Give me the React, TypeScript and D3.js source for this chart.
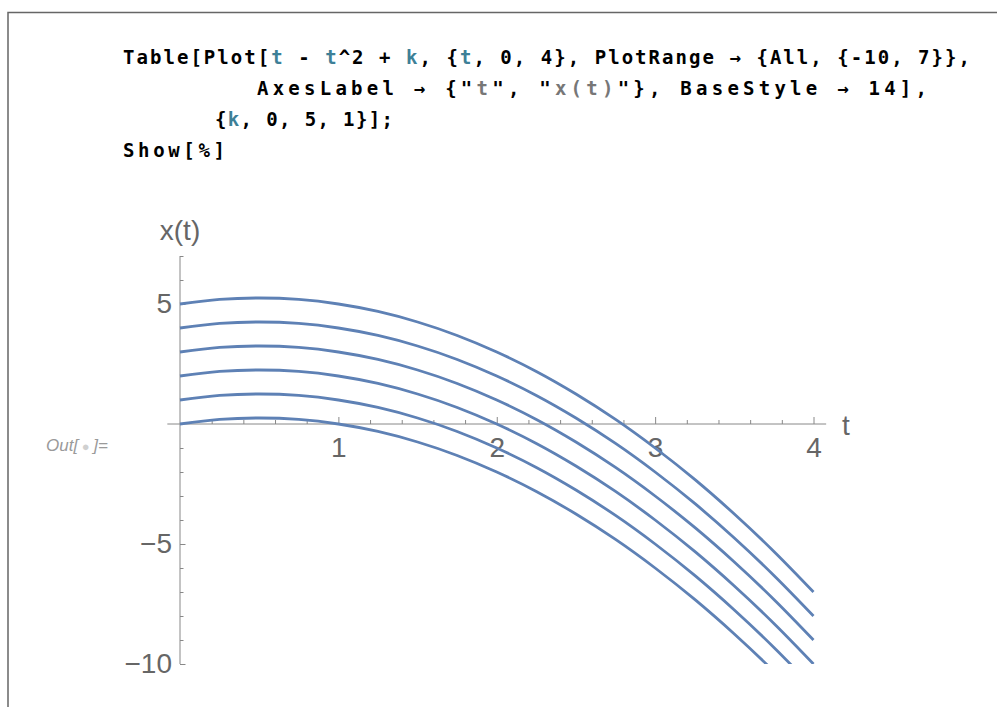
import React, { useRef, useEffect } from 'react';
import * as d3 from 'd3';

// sample points, t along the horizontal axis
const tValues = [0, 0.25, 0.5, 0.75, 1, 1.25, 1.5, 1.75, 2, 2.25, 2.5, 2.75, 3, 3.25, 3.5, 3.75, 4];
const seriesK0 = [0, 0.19, 0.25, 0.19, 0, -0.31, -0.75, -1.31, -2, -2.81, -3.75, -4.81, -6, -7.31, -8.75, -10.31, -12];
const seriesK1 = [1, 1.19, 1.25, 1.19, 1, 0.69, 0.25, -0.31, -1, -1.81, -2.75, -3.81, -5, -6.31, -7.75, -9.31, -11];
const seriesK2 = [2, 2.19, 2.25, 2.19, 2, 1.69, 1.25, 0.69, 0, -0.81, -1.75, -2.81, -4, -5.31, -6.75, -8.31, -10];
const seriesK3 = [3, 3.19, 3.25, 3.19, 3, 2.69, 2.25, 1.69, 1, 0.19, -0.75, -1.81, -3, -4.31, -5.75, -7.31, -9];
const seriesK4 = [4, 4.19, 4.25, 4.19, 4, 3.69, 3.25, 2.69, 2, 1.19, 0.25, -0.81, -2, -3.31, -4.75, -6.31, -8];
const seriesK5 = [5, 5.19, 5.25, 5.19, 5, 4.69, 4.25, 3.69, 3, 2.19, 1.25, 0.19, -1, -2.31, -3.75, -5.31, -7];

const xMajorTicks = [1, 2, 3, 4];
const xMinorTicks = [0.2, 0.4, 0.6, 0.8, 1.2, 1.4, 1.6, 1.8, 2.2, 2.4, 2.6, 2.8, 3.2, 3.4, 3.6, 3.8];
const yMajorTicks = [5, -5, -10];
const yMinorTicks = [7, 6, 4, 3, 2, 1, -1, -2, -3, -4, -6, -7, -8, -9];

const codeLines = [
  { x: 123, y: 64, len: 847, parts: [['Table[Plot[', '#000'], ['t', '#3d8097'], [' - ', '#000'], ['t', '#3d8097'], ['^2 + ', '#000'], ['k', '#3d8097'], [', {', '#000'], ['t', '#3d8097'], [', 0, 4}, PlotRange \u2192 {All, {-10, 7}},', '#000']] },
  { x: 257, y: 95, len: 670, parts: [['AxesLabel \u2192 {"', '#000'], ['t', '#777'], ['", "', '#000'], ['x(t)', '#777'], ['"}, BaseStyle \u2192 14],', '#000']] },
  { x: 215, y: 126, len: 178, parts: [['{', '#000'], ['k', '#3d8097'], [', 0, 5, 1}];', '#000']] },
  { x: 123, y: 157, len: 102, parts: [['Show[%]', '#000']] },
];

const W = 997;
const H = 707;

const Chart = () => {
  const svgRef = useRef(null);

  useEffect(() => {
    const svg = d3.select(svgRef.current);
    svg.selectAll('*').remove();

    const x = d3.scaleLinear().domain([0, 4]).range([180, 813.5]);
    const y = d3.scaleLinear().domain([-10, 7]).range([664, 256]);
    const axisColor = '#888';
    const labelColor = '#666';
    const labelFont = "'Liberation Sans', Arial, sans-serif";

    // notebook cell frame
    svg.append('path')
      .attr('d', `M8,${H} V12.5 H${W}`)
      .attr('fill', 'none')
      .attr('stroke', '#666')
      .attr('stroke-width', 1.5);

    // input code
    codeLines.forEach((line) => {
      const t = svg.append('text')
        .attr('x', line.x)
        .attr('y', line.y)
        .attr('textLength', line.len)
        .attr('lengthAdjust', 'spacing')
        .attr('font-family', "'DejaVu Sans Mono', 'Liberation Mono', monospace")
        .attr('font-weight', 'bold')
        .attr('font-size', 19)
        .attr('xml:space', 'preserve');
      line.parts.forEach(([s, c]) => {
        t.append('tspan').attr('fill', c).text(s);
      });
    });

    // Out[•]=
    const out = svg.append('text')
      .attr('x', 46)
      .attr('y', 451)
      .attr('font-family', labelFont)
      .attr('font-style', 'italic')
      .attr('font-size', 17)
      .attr('fill', '#9a9a9a');
    out.append('tspan').text('Out[');
    out.append('tspan').attr('fill', '#d0d0d0').attr('font-size', 13).text(' \u25CF ');
    out.append('tspan').text(']=');

    const plot = svg.append('g');

    // x axis
    plot.append('line')
      .attr('x1', x(-0.08)).attr('x2', x(4.08))
      .attr('y1', y(0)).attr('y2', y(0))
      .attr('stroke', axisColor);

    const xMinor = plot.append('g')
      .attr('transform', `translate(0,${y(0)})`)
      .call(d3.axisBottom(x).tickValues(xMinorTicks).tickSizeInner(-4).tickSizeOuter(0).tickFormat(() => ''));
    const xMajor = plot.append('g')
      .attr('transform', `translate(0,${y(0)})`)
      .call(d3.axisBottom(x).tickValues(xMajorTicks).tickSizeInner(-7).tickSizeOuter(0).tickPadding(13).tickFormat(d3.format('d')));

    // y axis
    plot.append('line')
      .attr('x1', x(0)).attr('x2', x(0))
      .attr('y1', y(7)).attr('y2', y(-10))
      .attr('stroke', axisColor);

    const yMinor = plot.append('g')
      .attr('transform', `translate(${x(0)},0)`)
      .call(d3.axisLeft(y).tickValues(yMinorTicks).tickSizeInner(-3.5).tickSizeOuter(0).tickFormat(() => ''));
    const yMajor = plot.append('g')
      .attr('transform', `translate(${x(0)},0)`)
      .call(d3.axisLeft(y).tickValues(yMajorTicks).tickSizeInner(-5.5).tickSizeOuter(0).tickPadding(8)
        .tickFormat((d) => (d < 0 ? '\u2212' + Math.abs(d) : String(d))));

    [xMinor, xMajor, yMinor, yMajor].forEach((g) => {
      g.select('.domain').remove();
      g.selectAll('.tick line').attr('stroke', axisColor);
      g.selectAll('.tick text')
        .attr('fill', labelColor)
        .attr('font-family', labelFont)
        .attr('font-size', 28);
    });

    // axis labels
    plot.append('text')
      .attr('x', 842)
      .attr('y', 435)
      .attr('font-family', labelFont)
      .attr('font-size', 28)
      .attr('fill', labelColor)
      .text('t');
    plot.append('text')
      .attr('x', 180)
      .attr('y', 240)
      .attr('text-anchor', 'middle')
      .attr('font-family', labelFont)
      .attr('font-size', 28)
      .attr('fill', labelColor)
      .text('x(t)');

    // curves, clipped to the plot range
    svg.append('defs').append('clipPath')
      .attr('id', 'plot-clip')
      .append('rect')
      .attr('x', x(-0.08))
      .attr('y', y(7))
      .attr('width', x(4.08) - x(-0.08))
      .attr('height', y(-10) - y(7));

    const series = [seriesK0, seriesK1, seriesK2, seriesK3, seriesK4, seriesK5];
    const line = d3.line()
      .x((d) => x(d[0]))
      .y((d) => y(d[1]))
      .curve(d3.curveCatmullRom.alpha(0.5));

    plot.append('g')
      .attr('clip-path', 'url(#plot-clip)')
      .selectAll('path')
      .data(series)
      .enter()
      .append('path')
      .attr('d', (vals) => line(tValues.map((t, i) => [t, vals[i]])))
      .attr('fill', 'none')
      .attr('stroke', '#5e81b5')
      .attr('stroke-width', 2.8);
  }, []);

  return (
    <svg
      ref={svgRef}
      width={W}
      height={H}
      style={{ position: 'absolute', left: 0, top: 0, background: '#fff' }}
    ></svg>
  );
};

export default function App() {
  return <Chart />;
}
